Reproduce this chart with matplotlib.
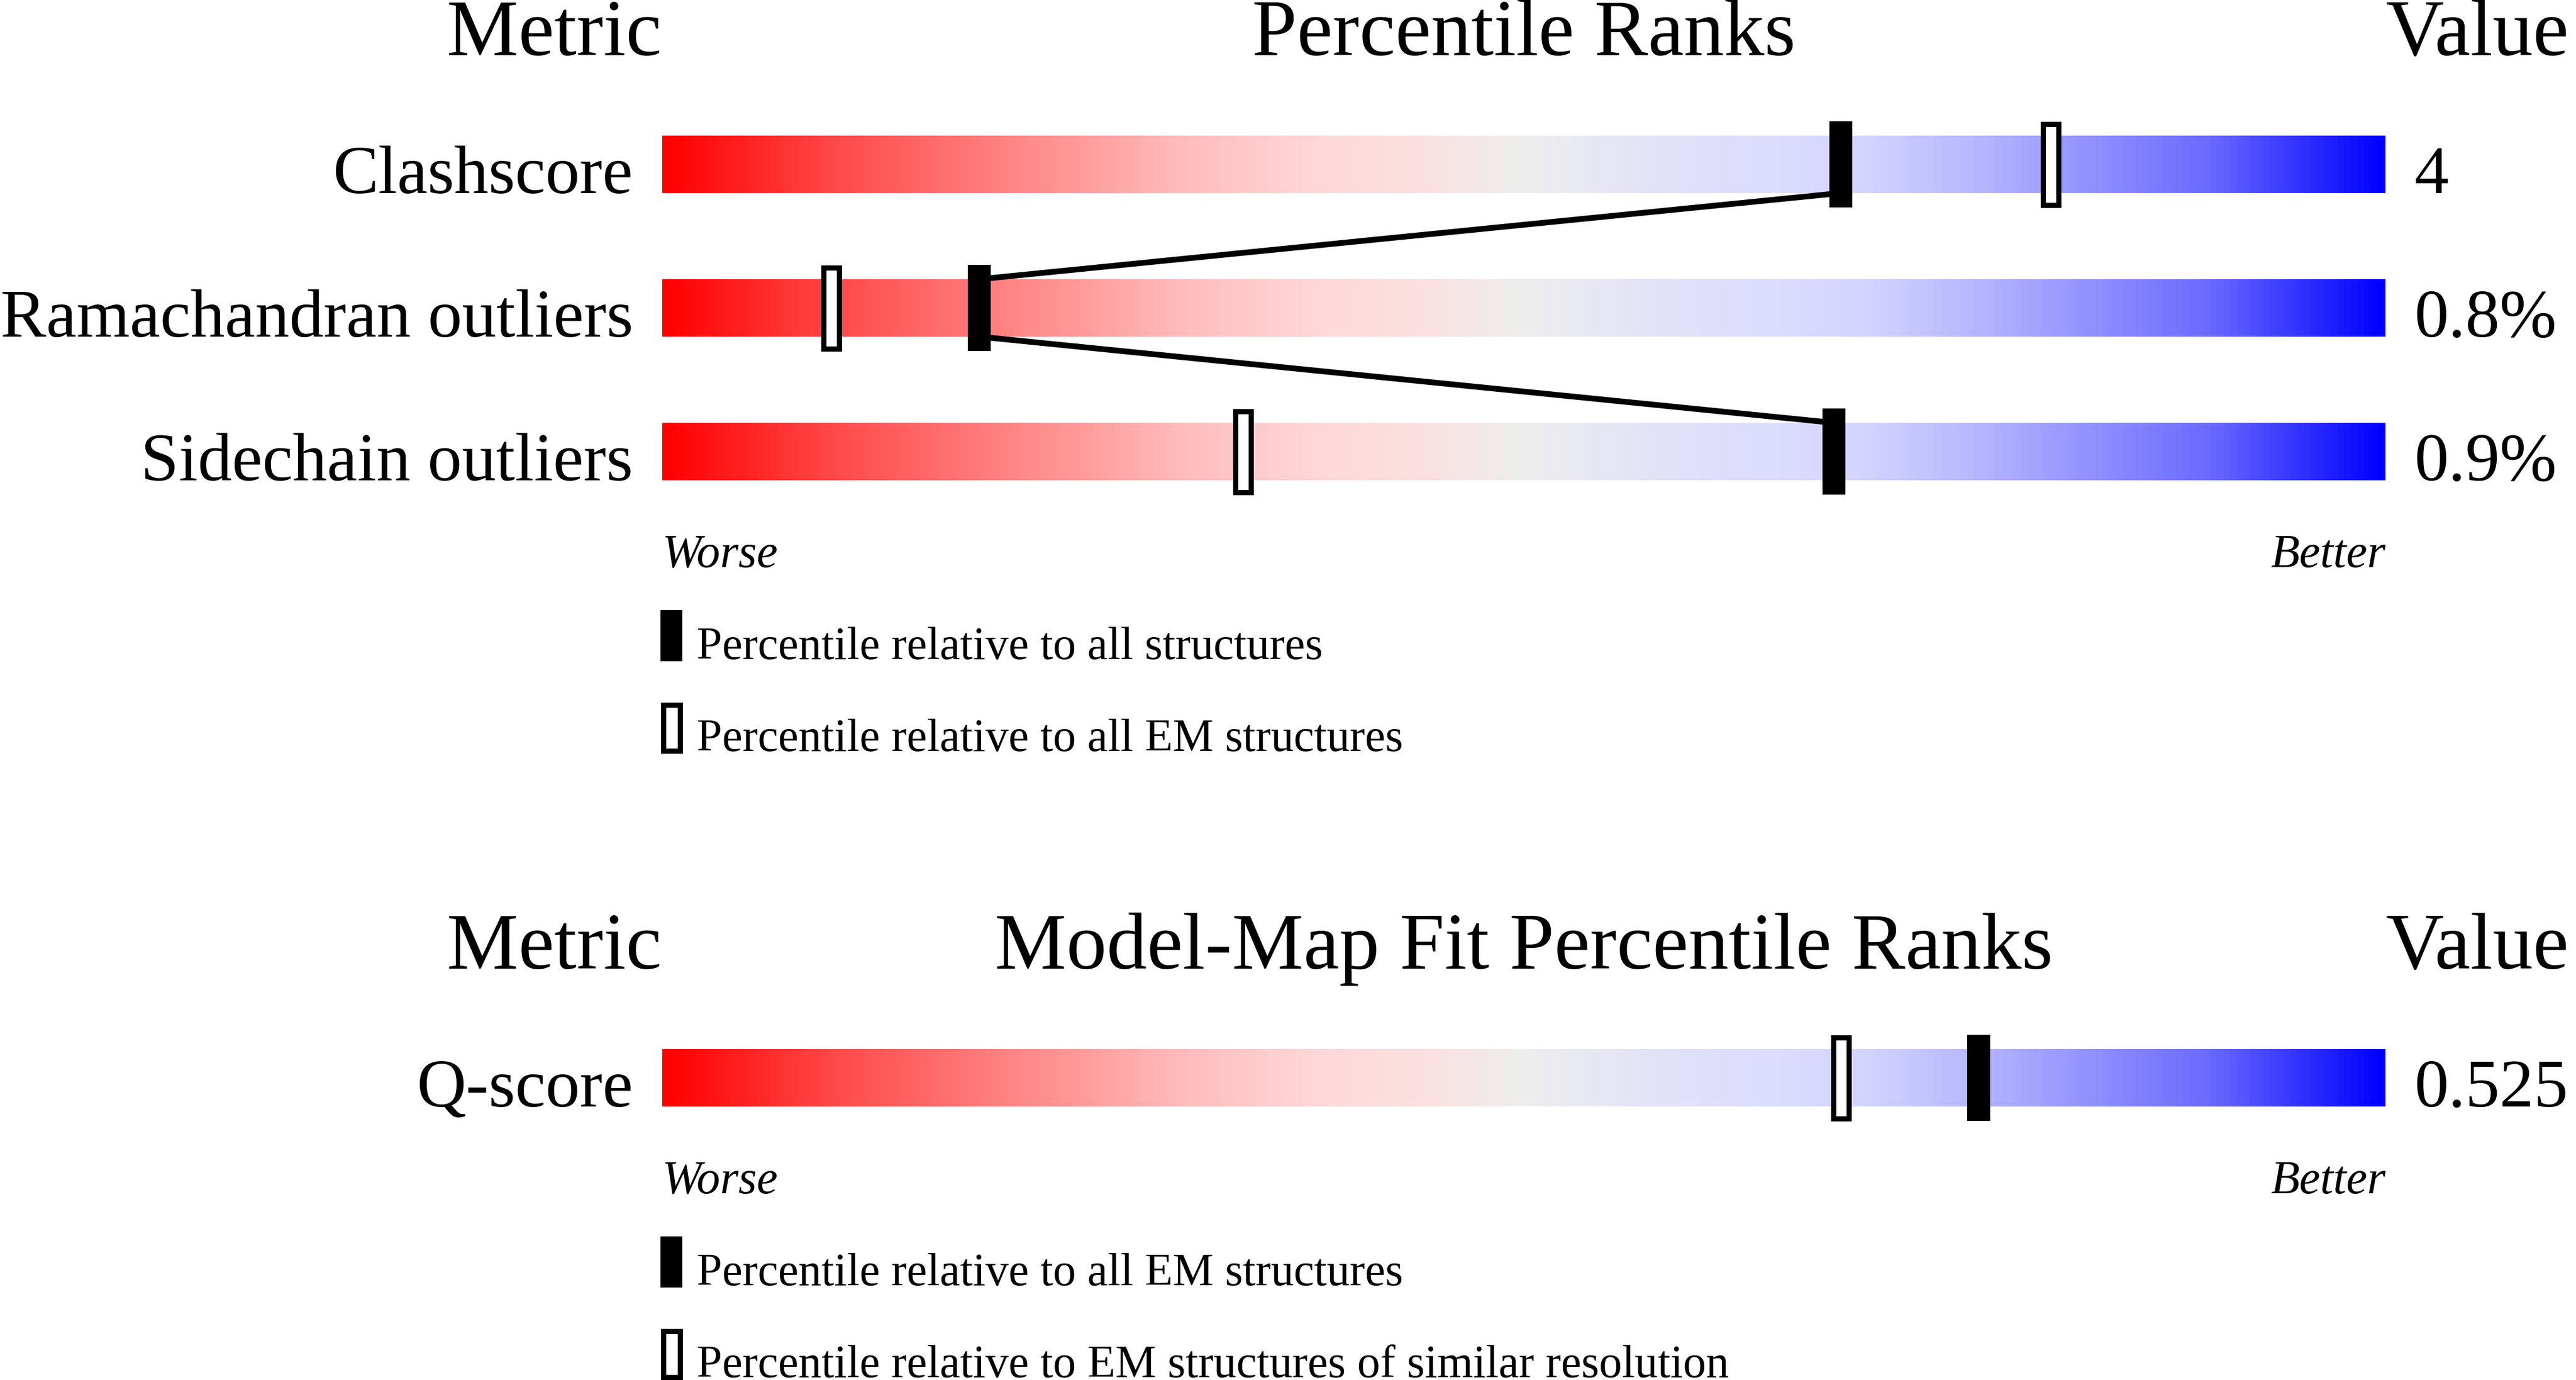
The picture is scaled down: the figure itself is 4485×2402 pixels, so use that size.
import numpy as np
import matplotlib
matplotlib.use("Agg")
import matplotlib.pyplot as plt
from matplotlib.colors import LinearSegmentedColormap
from matplotlib.patches import Rectangle

# geometry metrics
metrics = ["Clashscore", "Ramachandran outliers", "Sidechain outliers"]
metric_values = ["4", "0.8%", "0.9%"]
pct_all = [68.4, 18.4, 68.0]        # percentile relative to all structures
pct_all_em = [80.6, 9.8, 33.7]      # percentile relative to all EM structures

# model-map fit
fit_metrics = ["Q-score"]
fit_values = ["0.525"]
fit_pct_em = [76.4]                 # relative to all EM structures
fit_pct_res = [68.4]                # relative to EM structures of similar resolution

# slider colour ramp (position, colour)
ramp_pos = [0.0, 0.1, 0.2, 0.3, 0.38, 0.45, 0.5, 0.58, 0.65, 0.7, 0.76, 0.8, 0.9, 1.0]
ramp_col = ["#ff0000", "#ff4a4a", "#ff8484", "#ffbbbb", "#ffd8d8", "#fae2e2",
            "#eeeeee", "#e2e2f8", "#dcdcff", "#d3d3ff", "#b8b8ff", "#a2a2ff",
            "#6a6aff", "#0000ff"]

W, H = 4485, 2402
DPI = 100
BAR_L, BAR_R = 1153, 4153
UNIT = (BAR_R - BAR_L) / 100.0


def px(x):
    return (x - BAR_L) / UNIT


plt.rcParams["font.family"] = ["Liberation Serif", "DejaVu Serif"]
cmap = LinearSegmentedColormap.from_list("slider", list(zip(ramp_pos, ramp_col)))
grad = np.linspace(0, 1, 1000).reshape(1, -1)

fig = plt.figure(figsize=(W / DPI, H / DPI), dpi=DPI)
ax = fig.add_axes([BAR_L / W, 0, (BAR_R - BAR_L) / W, 1])

TITLE_FS = 101
LABEL_FS = 85.8
SMALL_FS = 57.5
HALF_BAR = 50
HALF_MARK = 75
PIX_PT = 72.0 / DPI


def solid_marker(x, yc, half_h, width_px=40):
    w = width_px / UNIT
    ax.add_patch(Rectangle((x - w / 2, yc - half_h), w, 2 * half_h,
                           facecolor="black", edgecolor="none", zorder=4, clip_on=False))


def open_marker(x, yc, half_h, width_px=36, lw_px=9):
    w = (width_px - lw_px) / UNIT
    hh = half_h - lw_px / 2
    ax.add_patch(Rectangle((x - w / 2, yc - hh), w, 2 * hh, facecolor="white",
                           edgecolor="black", linewidth=lw_px * PIX_PT, zorder=4,
                           clip_on=False))


def section(title, top, names, vals, pct_solid, pct_open, legend_texts, connect):
    base = top                        # title baseline
    ax.text(px(1152), base, "Metric", fontsize=TITLE_FS, ha="right", va="baseline")
    ax.text(50, base, title, fontsize=TITLE_FS, ha="center", va="baseline")
    ax.text(100, base, "Value", fontsize=TITLE_FS, ha="left", va="baseline")
    ys = [base + 190 + 250 * i for i in range(len(names))]
    for name, val, y in zip(names, vals, ys):
        ax.imshow(grad, cmap=cmap, aspect="auto", interpolation="bilinear",
                  extent=(0, 100, y + HALF_BAR, y - HALF_BAR), zorder=1)
        ax.text(px(1102), y + HALF_BAR, name, fontsize=LABEL_FS, ha="right", va="baseline")
        ax.text(px(4204), y + HALF_BAR, val, fontsize=LABEL_FS, ha="left", va="baseline")
    if connect:
        for i in range(len(ys) - 1):
            ax.plot([pct_solid[i], pct_solid[i + 1]],
                    [ys[i] + HALF_BAR, ys[i + 1] - HALF_BAR],
                    color="black", lw=10 * PIX_PT, solid_capstyle="butt", zorder=3,
                    clip_on=False)
    for p_s, p_o, y in zip(pct_solid, pct_open, ys):
        open_marker(p_o, y, HALF_MARK)
        solid_marker(p_s, y, HALF_MARK)
    wb = ys[-1] + HALF_BAR + 151
    ax.text(0, wb, "Worse", fontsize=59, style="italic", ha="left", va="baseline")
    ax.text(100, wb, "Better", fontsize=59, style="italic", ha="right", va="baseline")
    # legend
    box_w = 38 / UNIT
    y0 = wb + 75
    ax.add_patch(Rectangle((px(1150), y0), box_w, 89, facecolor="black",
                           edgecolor="none", clip_on=False))
    ax.text(px(1213), y0 + 85, legend_texts[0], fontsize=SMALL_FS, ha="left", va="baseline")
    y1 = y0 + 160
    lw = 9
    ax.add_patch(Rectangle((px(1150 + lw / 2), y1 + lw / 2), (38 - lw) / UNIT, 89 - lw,
                           facecolor="white", edgecolor="black", linewidth=lw * PIX_PT,
                           clip_on=False))
    ax.text(px(1213), y1 + 85, legend_texts[1], fontsize=SMALL_FS, ha="left", va="baseline")


section("Percentile Ranks", 96, metrics, metric_values, pct_all, pct_all_em,
        ["Percentile relative to all structures",
         "Percentile relative to all EM structures"], connect=True)
section("Model-Map Fit Percentile Ranks", 1686, fit_metrics, fit_values, fit_pct_em,
        fit_pct_res,
        ["Percentile relative to all EM structures",
         "Percentile relative to EM structures of similar resolution"], connect=False)

ax.set_xlim(0, 100)
ax.set_ylim(H, 0)
ax.axis("off")

fig.savefig("out.png", dpi=DPI)
